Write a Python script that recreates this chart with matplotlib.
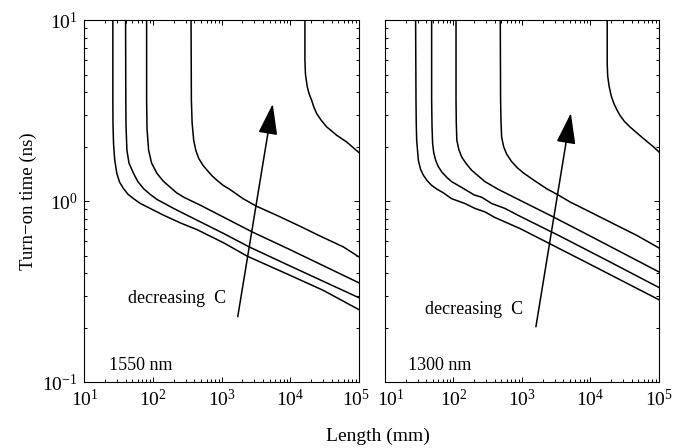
import matplotlib
matplotlib.use("Agg")
import matplotlib.pyplot as plt
from matplotlib.ticker import FixedLocator, LogLocator, NullFormatter, LogFormatterSciNotation
from matplotlib.transforms import ScaledTranslation

plt.rcParams['font.family'] = ['Liberation Serif', 'DejaVu Serif']
plt.rcParams['mathtext.fontset'] = 'custom'
plt.rcParams['mathtext.rm'] = 'Liberation Serif'
plt.rcParams['mathtext.it'] = 'Liberation Serif:italic'

# ---- data: 1550 nm panel ----
l1550_A_x = [25.9, 25.9, 26.0, 26.5, 27.5, 29.6, 32.5, 37.1, 43, 51.9, 65, 81.3, 142, 249, 436, 1070, 2370, 9840, 30100, 1e5]
l1550_A_y = [10, 3.61, 2.7, 2.08, 1.70, 1.42, 1.27, 1.17, 1.09, 1.03, 0.97, 0.929, 0.835, 0.757, 0.695, 0.587, 0.495, 0.389, 0.321, 0.251]
l1550_B_x = [39.7, 40.0, 40.3, 41.5, 44.5, 51.9, 60, 72.7, 90, 114, 199, 312, 611, 1070, 2506, 9840, 1e5]
l1550_B_y = [10, 3.61, 2.6, 1.91, 1.62, 1.42, 1.28, 1.17, 1.09, 1.02, 0.910, 0.835, 0.735, 0.661, 0.558, 0.438, 0.292]
l1550_C_x = [80.4, 80.4, 81.5, 86.0, 95, 114, 140, 178, 220, 279, 488, 935, 2773, 9840, 1e5]
l1550_C_y = [10, 3.61, 2.5, 1.91, 1.62, 1.42, 1.29, 1.19, 1.11, 1.05, 0.948, 0.835, 0.675, 0.539, 0.353]
l1550_D_x = [357, 361, 370, 390, 420, 462, 530, 611, 720, 855, 1050, 1309, 2048, 3206, 6281, 13770, 26970, 59030, 1e5]
l1550_D_y = [10, 3.61, 2.7, 2.17, 1.9, 1.72, 1.58, 1.48, 1.38, 1.30, 1.22, 1.16, 1.03, 0.936, 0.835, 0.726, 0.641, 0.558, 0.491]
l1550_E_x = [16290, 16290, 16600, 17620, 18800, 20370, 22000, 24100, 28000, 33730, 47200, 66070, 1e5]
l1550_E_y = [10, 6.01, 5.0, 4.28, 3.9, 3.61, 3.3, 3.05, 2.8, 2.57, 2.31, 2.12, 1.85]

# ---- data: 1300 nm panel ----
l1300_A_x = [28.0, 28.35, 28.6, 29.0, 30.7, 33, 36.3, 41, 48.0, 58, 71.1, 94.0, 147, 206, 288, 403, 935, 2867, 10990, 1e5]
l1300_A_y = [10, 3.61, 2.7, 2.17, 1.68, 1.50, 1.39, 1.30, 1.22, 1.16, 1.11, 1.03, 0.969, 0.910, 0.871, 0.811, 0.705, 0.568, 0.438, 0.285]
l1300_B_x = [48.0, 48.0, 48.6, 49.6, 51.5, 54.9, 60, 67.2, 80, 94.0, 147, 201, 258, 361, 565, 935, 3589, 19270, 1e5]
l1300_B_y = [10, 3.61, 2.6, 2.08, 1.85, 1.68, 1.55, 1.45, 1.35, 1.28, 1.16, 1.08, 1.05, 0.969, 0.910, 0.824, 0.640, 0.461, 0.333]
l1300_C_x = [109, 109, 110, 112, 120, 132, 155, 184, 288, 451, 935, 2867, 10990, 1e5]
l1300_C_y = [10, 3.61, 2.7, 2.17, 1.92, 1.75, 1.60, 1.48, 1.28, 1.16, 1.01, 0.817, 0.628, 0.406]
l1300_D_x = [483, 488, 494, 505, 540, 597, 700, 850, 1050, 1463, 2291, 3392, 5019, 8790, 15390, 26970, 47200, 1e5]
l1300_D_y = [10, 3.61, 2.8, 2.26, 2.0, 1.82, 1.66, 1.53, 1.43, 1.31, 1.17, 1.08, 0.989, 0.890, 0.800, 0.719, 0.647, 0.551]
l1300_E_x = [17620, 17620, 17900, 18840, 20200, 22030, 24300, 26970, 31500, 37740, 59030, 82630, 1e5]
l1300_E_y = [10, 5.76, 4.9, 4.28, 3.8, 3.46, 3.2, 2.98, 2.75, 2.57, 2.22, 2.00, 1.87]

x_ticks = [1e1, 1e2, 1e3, 1e4, 1e5]
y_ticks = [1e-1, 1e0, 1e1]

panel_labels = ["1550 nm", "1300 nm"]
arrow_text = "decreasing  C"
arrow_tail = [(1711, 0.2296), (1601, 0.202)]
arrow_tip = [(5534, 3.44), (5188, 3.06)]
text_pos = [(43.0, 0.288), (38.4, 0.250)]

panels = [
    [(l1550_A_x, l1550_A_y), (l1550_B_x, l1550_B_y), (l1550_C_x, l1550_C_y),
     (l1550_D_x, l1550_D_y), (l1550_E_x, l1550_E_y)],
    [(l1300_A_x, l1300_A_y), (l1300_B_x, l1300_B_y), (l1300_C_x, l1300_C_y),
     (l1300_D_x, l1300_D_y), (l1300_E_x, l1300_E_y)],
]

fig = plt.figure(figsize=(6.88, 4.48), dpi=100)
ax1 = fig.add_axes([0.1228, 0.1473, 0.399, 0.808])
ax2 = fig.add_axes([0.5596, 0.1473, 0.398, 0.808])

for i, ax in enumerate([ax1, ax2]):
    for xs, ys in panels[i]:
        ax.plot(xs, ys, color='black', lw=1.1, solid_joinstyle='round')
    ax.set_xscale('log')
    ax.set_yscale('log')
    ax.set_xlim(10, 1e5)
    ax.set_ylim(0.1, 10)
    ax.xaxis.set_major_locator(FixedLocator(x_ticks))
    ax.xaxis.set_major_formatter(LogFormatterSciNotation())
    ax.xaxis.set_minor_locator(LogLocator(base=10, subs=range(2, 10), numticks=20))
    ax.yaxis.set_major_locator(FixedLocator(y_ticks))
    ax.yaxis.set_major_formatter(LogFormatterSciNotation())
    ax.yaxis.set_minor_locator(LogLocator(base=10, subs=range(2, 10), numticks=20))
    ax.xaxis.set_minor_formatter(NullFormatter())
    ax.yaxis.set_minor_formatter(NullFormatter())
    ax.tick_params(which='both', direction='in', top=True, right=True, labelsize=14,
                   width=0.7, colors='black')
    ax.tick_params(which='major', length=3.5, pad=5)
    ax.tick_params(which='minor', length=2)
    for sp in ax.spines.values():
        sp.set_linewidth(0.8)
    ax.text(0.09 if i == 0 else 0.084, 0.046, panel_labels[i], transform=ax.transAxes,
            fontsize=13, ha='left', va='center')
    ax.annotate('', xy=arrow_tip[i], xytext=arrow_tail[i],
                arrowprops=dict(arrowstyle='-|>,head_length=1.6,head_width=0.5',
                                lw=1.1, color='black', shrinkA=0, shrinkB=0,
                                mutation_scale=12))
    ax.text(text_pos[i][0], text_pos[i][1], arrow_text, fontsize=13,
            ha='left', va='center')

ax2.yaxis.set_major_formatter(NullFormatter())
ax1.set_ylabel('Turn\u2212on time (ns)', fontsize=13.5, labelpad=4)
fig.text(0.549, 0.025, 'Length (mm)', fontsize=14, ha='center', va='center')

# nudge the neighbouring 10^5 / 10^1 labels apart, as in the reference
t_last = ax1.xaxis.get_major_ticks()[-1]
t_last.label1.set_transform(t_last.label1.get_transform() + ScaledTranslation(-3 / 100, 0, fig.dpi_scale_trans))
t_first = ax2.xaxis.get_major_ticks()[0]
t_first.label1.set_transform(t_first.label1.get_transform() + ScaledTranslation(6 / 100, 0, fig.dpi_scale_trans))

fig.savefig('out.png', dpi=100)
